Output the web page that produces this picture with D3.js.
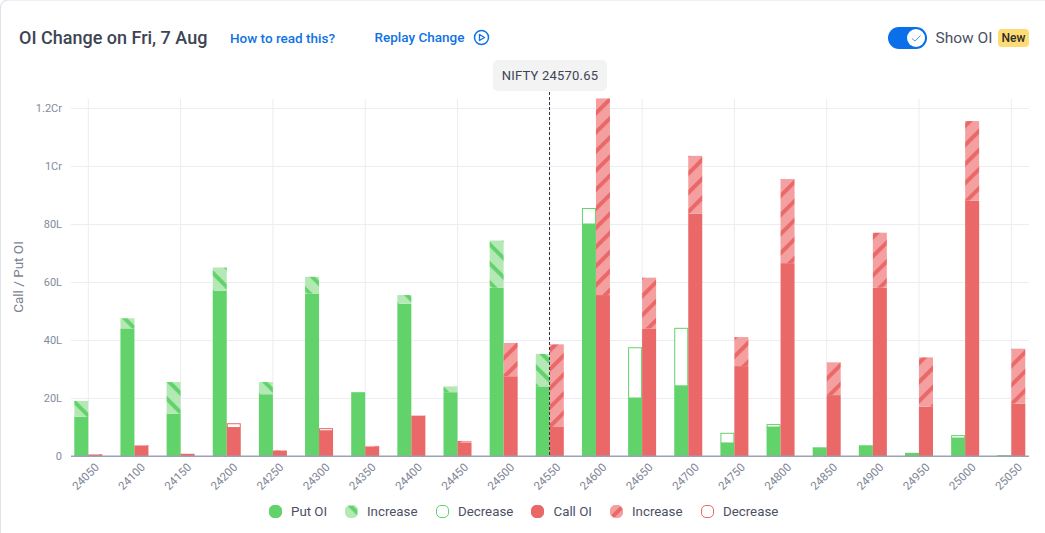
<!DOCTYPE html>
<html>
<head>
<meta charset="utf-8">
<title>OI Change</title>
<script src="https://cdn.jsdelivr.net/npm/d3@7"></script>
<style>
  html, body { margin: 0; padding: 0; background: #fff; }
  svg { display: block; font-family: Roboto, sans-serif; }
</style>
</head>
<body>
<svg id="chart" width="1045" height="533"></svg>
<script>
// values are in lakh
var strikes = [24050, 24100, 24150, 24200, 24250, 24300, 24350, 24400, 24450, 24500, 24550,
  24600, 24650, 24700, 24750, 24800, 24850, 24900, 24950, 25000, 25050];
var putNow = [13.5, 44, 14.6, 57, 21.3, 56, 22, 52.5, 22, 58, 24,
  80, 20, 24.2, 4.5, 10, 2.5, 3.7, 0.8, 6.2, 0.3];
var putPrev = [19, 47.5, 25.5, 65, 25.5, 61.8, 22, 55.5, 24, 74.3, 35.2,
  85.5, 37.5, 44.2, 8, 11, 3, 3.8, 1.1, 7.2, 0.3];
var putKind = ["inc", "inc", "inc", "inc", "inc", "inc", "none", "inc", "inc", "inc", "inc",
  "dec", "dec", "dec", "dec", "dec", "dec", "dec", "dec", "dec", "none"];
var callNow = [0.5, 3.6, 0.7, 9.8, 1.8, 8.7, 3.2, 13.8, 4.5, 27.5, 10,
  55.5, 44, 83.5, 31, 66.5, 21, 58, 17, 88, 18];
var callPrev = [0.7, 3.8, 0.8, 11.3, 2, 9.6, 3.5, 14, 5.2, 39, 38.5,
  123.3, 61.5, 103.5, 41, 95.5, 32.3, 77, 34, 115.5, 37];
var callKind = ["inc", "inc", "inc", "dec", "inc", "dec", "inc", "inc", "inc", "inc", "inc",
  "inc", "inc", "inc", "inc", "inc", "inc", "inc", "inc", "inc", "inc"];
var yTicks = [0, 20, 40, 60, 80, 100, 120];
var yLabels = ["0", "20L", "40L", "60L", "80L", "1Cr", "1.2Cr"];
var spotLabel = "NIFTY 24570.65";
var legendNames = ["Put OI", "Increase", "Decrease", "Call OI", "Increase", "Decrease"];

var green = "#62d36a", greenLight = "#b4e9b6";
var red = "#ea6868", redLight = "#f5a0a0";
var barW = 14;

var svg = d3.select("#chart");
var defs = svg.append("defs");

function hatch(id, bg, fg, angle) {
  var p = defs.append("pattern")
    .attr("id", id)
    .attr("patternUnits", "userSpaceOnUse")
    .attr("width", 13.5)
    .attr("height", 13.5)
    .attr("patternTransform", "rotate(" + angle + ")");
  p.append("rect").attr("width", 13.5).attr("height", 13.5).attr("fill", bg);
  p.append("rect").attr("width", 13.5).attr("height", 4).attr("fill", fg);
}
hatch("hatchPut", greenLight, green, 45);
hatch("hatchCall", redLight, red, -45);

// card edge
svg.append("rect")
  .attr("x", 0.5).attr("y", -0.2).attr("width", 1100).attr("height", 600).attr("rx", 8)
  .attr("fill", "#fff").attr("stroke", "#dfe4ec").attr("stroke-width", 1.2);

var x = d3.scalePoint().domain(strikes).range([88.3, 1011.3]);
var y = d3.scaleLinear().domain([0, 120]).range([456, 108]);

// vertical grid, every second strike
svg.append("g").selectAll("line")
  .data(strikes.filter(function (d, i) { return i % 2 === 0; }))
  .enter().append("line")
  .attr("x1", function (d) { return x(d); })
  .attr("x2", function (d) { return x(d); })
  .attr("y1", 99).attr("y2", 456)
  .attr("stroke", "#ebedf3").attr("stroke-width", 1);

var yAxis = svg.append("g")
  .attr("transform", "translate(71,0)")
  .call(d3.axisLeft(y).tickValues(yTicks).tickSize(0).tickPadding(9)
    .tickFormat(function (d, i) { return yLabels[i]; }));
yAxis.select(".domain").remove();
yAxis.selectAll("text").attr("fill", "#848b9c").style("font-size", "11px").style("font-family", "Roboto");
yAxis.selectAll("line")
  .attr("x2", 958)
  .attr("stroke", function (d) { return d === 0 ? "#9aa1b3" : "#ebedf3"; })
  .attr("stroke-width", function (d) { return d === 0 ? 1.2 : 1; });

svg.append("text")
  .attr("transform", "translate(23,277) rotate(-90)")
  .attr("text-anchor", "middle")
  .attr("fill", "#7b8294")
  .style("font-size", "13.5px")
  .text("Call / Put OI");

function drawSide(now, prev, kind, offset, colour, hatchId) {
  var rows = strikes.map(function (s, i) {
    return { strike: s, now: now[i], prev: prev[i], kind: kind[i] };
  });
  var g = svg.append("g");
  g.selectAll("rect.solid").data(rows).enter().append("rect")
    .attr("class", "solid")
    .attr("x", function (d) { return x(d.strike) + offset; })
    .attr("width", barW)
    .attr("y", function (d) { return y(d.now); })
    .attr("height", function (d) { return y(0) - y(d.now); })
    .attr("fill", colour);
  g.selectAll("rect.inc").data(rows.filter(function (d) { return d.kind === "inc"; })).enter().append("rect")
    .attr("class", "inc")
    .attr("x", function (d) { return x(d.strike) + offset; })
    .attr("width", barW)
    .attr("y", function (d) { return y(d.prev); })
    .attr("height", function (d) { return y(d.now) - y(d.prev); })
    .attr("fill", "url(#" + hatchId + ")");
  g.selectAll("rect.dec").data(rows.filter(function (d) { return d.kind === "dec"; })).enter().append("rect")
    .attr("class", "dec")
    .attr("x", function (d) { return x(d.strike) + offset + 0.5; })
    .attr("width", barW - 1)
    .attr("y", function (d) { return y(d.prev) + 0.5; })
    .attr("height", function (d) { return Math.max(y(d.now) - y(d.prev) - 0.5, 0); })
    .attr("fill", "#fff")
    .attr("stroke", colour)
    .attr("stroke-width", 1);
}
drawSide(putNow, putPrev, putKind, -barW, green, "hatchPut");
drawSide(callNow, callPrev, callKind, 0, red, "hatchCall");

// redraw baseline over the bars
svg.append("line")
  .attr("x1", 71).attr("x2", 1029).attr("y1", y(0)).attr("y2", y(0))
  .attr("stroke", "#9aa1b3").attr("stroke-width", 1.2);

var xAxis = svg.append("g")
  .attr("transform", "translate(0,456)")
  .call(d3.axisBottom(x).tickSize(0).tickPadding(0));
xAxis.select(".domain").remove();
xAxis.selectAll("text")
  .attr("text-anchor", "end")
  .attr("dy", 0)
  .attr("y", 0)
  .attr("transform", "translate(11,12) rotate(-45)")
  .attr("fill", "#7d8496")
  .style("font-size", "11.5px")
  .style("font-family", "Roboto");

// spot line and label
svg.append("line")
  .attr("x1", 549.5).attr("x2", 549.5)
  .attr("y1", 92).attr("y2", 456)
  .attr("stroke", "#333a45").attr("stroke-width", 1).attr("stroke-dasharray", "3,2");
svg.append("rect")
  .attr("x", 493).attr("y", 60).attr("width", 114).attr("height", 31).attr("rx", 5)
  .attr("fill", "#f3f3f4");
svg.append("text")
  .attr("x", 550).attr("y", 80).attr("text-anchor", "middle")
  .attr("fill", "#3d4454").style("font-size", "13px").style("letter-spacing", "0.2px")
  .text(spotLabel);

// header
svg.append("text").attr("x", 19).attr("y", 44)
  .attr("fill", "#3d4454").style("font-size", "18px").style("font-weight", 500)
  .text("OI Change on Fri, 7 Aug");
svg.append("text").attr("x", 230).attr("y", 43)
  .attr("fill", "#0f72e5").style("font-size", "13.5px").style("font-weight", 500)
  .text("How to read this?");
svg.append("text").attr("x", 374.5).attr("y", 42)
  .attr("fill", "#0f72e5").style("font-size", "13.5px").style("font-weight", 500)
  .text("Replay Change");
svg.append("circle").attr("cx", 481.5).attr("cy", 37.5).attr("r", 7)
  .attr("fill", "none").attr("stroke", "#0f72e5").attr("stroke-width", 1.5);
svg.append("path").attr("d", "M479.5 34.5 L484.5 37.5 L479.5 40.5 Z")
  .attr("fill", "none").attr("stroke", "#0f72e5").attr("stroke-width", 1.3).attr("stroke-linejoin", "round");

// toggle
svg.append("rect").attr("x", 888).attr("y", 27).attr("width", 39).attr("height", 22).attr("rx", 11)
  .attr("fill", "#0a6fe8");
svg.append("circle").attr("cx", 916).attr("cy", 38).attr("r", 9).attr("fill", "#fff");
svg.append("path").attr("d", "M912 38.5 L915 41 L920.5 35.5")
  .attr("fill", "none").attr("stroke", "#5b93e0").attr("stroke-width", 1);
svg.append("text").attr("x", 935.5).attr("y", 43)
  .attr("fill", "#4a5163").style("font-size", "15.5px").text("Show OI");
svg.append("rect").attr("x", 998).attr("y", 29).attr("width", 31).attr("height", 18).attr("rx", 4)
  .attr("fill", "#ffdc73");
svg.append("text").attr("x", 1013.5).attr("y", 42).attr("text-anchor", "middle")
  .attr("fill", "#2c2c2c").style("font-size", "12px").style("font-weight", 500).text("New");

// legend
var legendMarkX = [269, 345, 436, 531, 610, 701];
var legendTextX = [291, 367, 458, 553.5, 632, 723];
var legendFill = [green, "url(#hatchPut)", "#fff", red, "url(#hatchCall)", "#fff"];
var legendStroke = [green, greenLight, "#62d36a", red, redLight, "#ea6868"];
var legend = svg.append("g").selectAll("g").data(legendNames).enter().append("g");
legend.append("rect")
  .attr("x", function (d, i) { return legendMarkX[i] + 0.5; })
  .attr("y", 505.5).attr("width", 12).attr("height", 12).attr("rx", 4.5)
  .attr("fill", function (d, i) { return legendFill[i]; })
  .attr("stroke", function (d, i) { return legendStroke[i]; })
  .attr("stroke-width", 1);
legend.append("text")
  .attr("x", function (d, i) { return legendTextX[i]; })
  .attr("y", 516)
  .attr("fill", "#4a5163")
  .style("font-size", "13.3px")
  .text(function (d) { return d; });
</script>
</body>
</html>
